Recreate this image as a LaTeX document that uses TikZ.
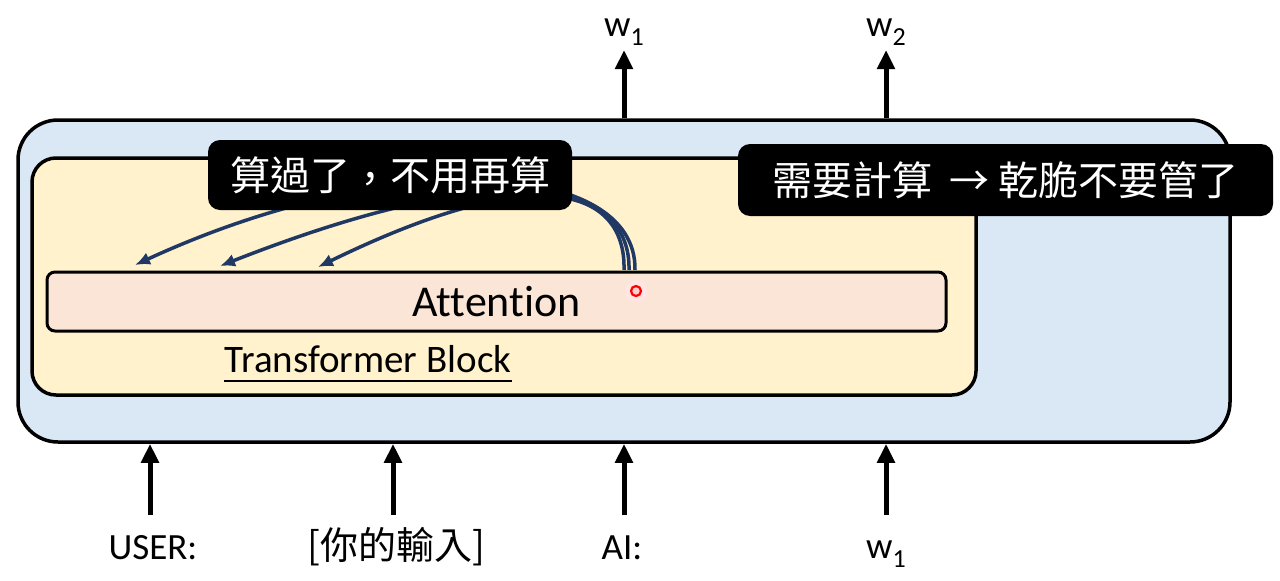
\documentclass[tikz,border=0pt]{standalone}
\usepackage{fontspec}
\setmainfont{Carlito}[Ligatures=NoCommon]
\newfontfamily\cjk{Noto Sans CJK TC}
\usetikzlibrary{arrows.meta}
\definecolor{outerblue}{HTML}{DAE7F4}
\definecolor{innergold}{HTML}{FFF2CC}
\definecolor{attnpeach}{HTML}{FBE5D6}
\definecolor{navyline}{HTML}{1F3864}
\tikzset{
  outerbox/.style={draw=black, line width=3.5pt, fill=outerblue, rounded corners=40pt, minimum width=1212pt, minimum height=322pt},
  innerbox/.style={draw=black, line width=3.5pt, fill=innergold, rounded corners=24pt, minimum width=944pt, minimum height=237pt},
  attnbox/.style={draw=black, line width=3pt, fill=attnpeach, rounded corners=8pt, minimum width=899pt, minimum height=59pt, font=\fontsize{44}{48}\selectfont},
  notebox/.style={fill=black, rounded corners=12pt, text=white, font=\cjk\fontsize{40}{44}\selectfont},
  bigarrow/.style={line width=5pt, -{Triangle[length=19pt,width=17pt]}},
  curvearrow/.style={draw=navyline, line width=3.5pt, -{Latex[length=15pt,width=13pt]}},
  lbl/.style={anchor=base, inner sep=0pt, font=\fontsize{37}{40}\selectfont},
  cjklbl/.style={anchor=base, inner sep=0pt, font=\cjk\fontsize{38}{40}\selectfont},
}
\newcommand{\wsub}[1]{w\raisebox{-0.25em}{\fontsize{26}{28}\selectfont #1}}
\newcount\cmglyph
\newdimen\cmlsb \newdimen\cmrsb \newdimen\cmtop \newdimen\cmbot
\newdimen\cmshift \newdimen\cmraise
\newcommand{\midcomma}{{%
  \cmglyph=\XeTeXcharglyph"FF0C\relax
  \cmlsb=\XeTeXglyphbounds1 \cmglyph\relax
  \cmtop=\XeTeXglyphbounds2 \cmglyph\relax
  \cmrsb=\XeTeXglyphbounds3 \cmglyph\relax
  \cmbot=\XeTeXglyphbounds4 \cmglyph\relax
  \cmshift=\dimexpr(\cmrsb-\cmlsb)/2\relax
  \cmraise=\dimexpr 0.27em-(\cmtop-\cmbot)/2\relax
  \makebox[1em][l]{\hspace*{\cmshift}\raisebox{\cmraise}{\rlap{，}}}%
}}
\begin{document}
\begin{tikzpicture}[x=1pt,y=-1pt]
\fill[white] (0,0) rectangle (1280,581);
\useasboundingbox (0,0) rectangle (1280,581);

\node[outerbox] (outer) at (624,281) {};
\node[innerbox] (inner) at (504,276.5) {};
\node[attnbox] (attn) at (496.5,301.5) {Attention};

\node[inner sep=0pt, anchor=base, font=\fontsize{39}{42}\selectfont] (tb) at (368,372) {Transformer Block};
\draw[line width=1.3pt] ([yshift=-9pt]tb.base west) -- ([yshift=-9pt]tb.base east);

% curved arrows (reuse of cached attention)
\coordinate (s1) at (635,270);
\coordinate (s2) at (629,270);
\coordinate (s3) at (624,270);
\coordinate (e1) at (135,265);
\coordinate (e2) at (220,266);
\coordinate (e3) at (318,267);
\draw[curvearrow] (s1) .. controls (637,160) and (395,145) .. (e1);
\draw[curvearrow] (s2) .. controls (631,182) and (510,152) .. (e2);
\draw[curvearrow] (s3) .. controls (626,196) and (552,153) .. (e3);

% laser pointer dot
\node[circle, fill=red!10, inner sep=0pt, minimum size=22pt] (glow) at (636,291) {};
\node[circle, draw=red, line width=2.2pt, fill=red!20, inner sep=0pt, minimum size=10pt] (dot) at (636,291) {};

% notes
\node[notebox, minimum width=364pt, minimum height=70pt] (note1) at (390,175) {算過了\midcomma 不用再算};
\node[notebox, minimum width=535pt, minimum height=72pt] (note2) at (1005.5,180) {需要計算\ \ →\ 乾脆不要管了};

% output arrows
\coordinate (t1) at (624,50);
\coordinate (t2) at (886,50);
\draw[bigarrow] (t1 |- outer.north) -- (t1);
\draw[bigarrow] (t2 |- outer.north) -- (t2);
\node[lbl] (w1top) at (624,36) {\wsub{1}};
\node[lbl] (w2top) at (886,36) {\wsub{2}};

% input arrows
\coordinate (b1) at (150,515);
\coordinate (b2) at (393,515);
\coordinate (b3) at (624,515);
\coordinate (b4) at (886,515);
\draw[bigarrow] (b1) -- (b1 |- outer.south);
\draw[bigarrow] (b2) -- (b2 |- outer.south);
\draw[bigarrow] (b3) -- (b3 |- outer.south);
\draw[bigarrow] (b4) -- (b4 |- outer.south);
\node[lbl] (user) at (153,559) {USER:};
\node[cjklbl] (input) at (396,559) {[你的輸入]};
\node[lbl] (ai) at (622,559) {AI:};
\node[lbl] (w1bot) at (886,558) {\wsub{1}};
\end{tikzpicture}
\end{document}
